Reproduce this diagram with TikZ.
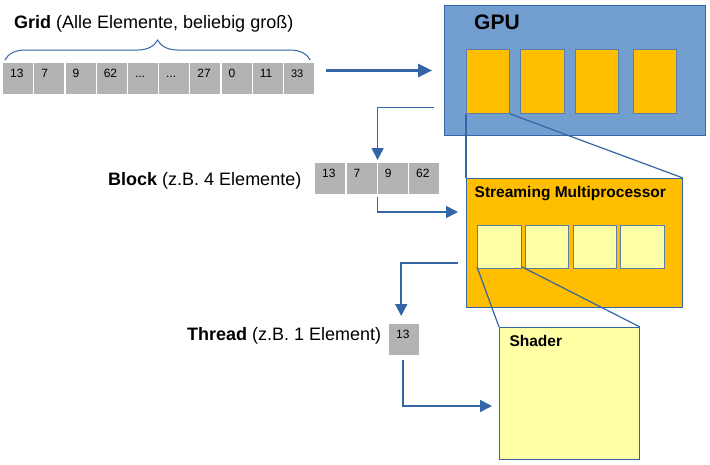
\documentclass[tikz,border=0pt]{standalone}
\usepackage{fontspec}
\setmainfont{Liberation Sans}
\usetikzlibrary{arrows.meta,decorations.pathreplacing}
\definecolor{lineblue}{HTML}{3465A4}
\definecolor{gpublue}{HTML}{729FCF}
\definecolor{smorange}{HTML}{FFBF00}
\definecolor{shyellow}{HTML}{FFFFA6}
\definecolor{cellgray}{HTML}{B3B3B3}
\definecolor{sqborder}{HTML}{5B7DA8}
\begin{document}
\begin{tikzpicture}[x=1pt,y=-1pt,
  cell/.style={fill=cellgray, anchor=north west, minimum width=30pt, minimum height=30.5pt,
    inner xsep=0pt, inner ysep=0pt, text width=16pt, align=left, text height=9pt, text depth=11.5pt,
    font=\fontsize{12}{14}\selectfont},
  box/.style={anchor=north west, inner sep=0pt, line width=1pt, draw=lineblue},
  sqbox/.style={anchor=north west, inner sep=0pt, line width=0.8pt, draw=sqborder},
  lbl/.style={anchor=base west, inner sep=0pt, font=\fontsize{18}{21}\selectfont},
  title/.style={anchor=base west, inner sep=0pt, font=\bfseries\fontsize{15.5}{18}\selectfont},
  zoomline/.style={draw=lineblue, line width=1.2pt},
  thinarrow/.style={draw=lineblue, line width=1.7pt, -{Triangle[length=12pt,width=12pt]}},
  bigarrow/.style={draw=lineblue, line width=3pt, -{Triangle[length=14pt,width=13pt]}}
]
\useasboundingbox (0,0) rectangle (710,464);

% Grid row
\node[lbl] (gridlbl) at (14,28.3) {\textbf{Grid} (Alle Elemente, beliebig groß)};
\node[cell] (g1) at (3,63) {13};
\node[cell] (g2) at (34.2,63) {7};
\node[cell] (g3) at (65.4,63) {9};
\node[cell] (g4) at (96.6,63) {62};
\node[cell] (g5) at (127.8,63) {...};
\node[cell] (g6) at (159,63) {...};
\node[cell] (g7) at (190.2,63) {27};
\node[cell] (g8) at (221.4,63) {0};
\node[cell] (g9) at (252.6,63) {11};
\node[cell, font=\fontsize{11}{13}\selectfont] (g10) at (283.8,63) {33};
\draw[lineblue, line width=1pt, decorate, decoration={brace, amplitude=20pt}]
  ([xshift=2pt,yshift=3pt]g1.north west) -- ([xshift=-4pt,yshift=3pt]g10.north east);

% GPU
\node[box, fill=gpublue, minimum width=261pt, minimum height=130pt] (gpu) at (444,5) {};
\node[anchor=base west, inner sep=0pt, font=\bfseries\fontsize{21}{25}\selectfont] (gpulbl) at (474,29.3) {GPU};
\node[sqbox, fill=smorange, minimum width=43pt, minimum height=64pt] (o1) at (466,49) {};
\node[sqbox, fill=smorange, minimum width=44pt, minimum height=64pt] (o2) at (520,49) {};
\node[sqbox, fill=smorange, minimum width=43pt, minimum height=64pt] (o3) at (575,49) {};
\node[sqbox, fill=smorange, minimum width=43pt, minimum height=64pt] (o4) at (633,49) {};

% Streaming Multiprocessor
\node[box, fill=smorange, minimum width=216pt, minimum height=129pt] (sm) at (466,178) {};
\node[title] (smlbl) at (474.5,197.3) {Streaming Multiprocessor};
\node[sqbox, fill=shyellow, minimum width=44pt, minimum height=43pt] (y1) at (477,225) {};
\node[sqbox, fill=shyellow, minimum width=43pt, minimum height=43pt] (y2) at (525,225) {};
\node[sqbox, fill=shyellow, minimum width=43pt, minimum height=43pt] (y3) at (573,225) {};
\node[sqbox, fill=shyellow, minimum width=44pt, minimum height=43pt] (y4) at (620,225) {};

% Shader
\node[box, fill=shyellow, minimum width=140pt, minimum height=132pt] (sh) at (499,327) {};
\node[title] (shlbl) at (509.3,346.7) {Shader};

% zoom lines
\draw[zoomline] (o1.south west) -- (sm.north west);
\draw[zoomline] (o1.south east) -- (sm.north east);
\draw[zoomline] ([yshift=2pt]y1.south west) -- (sh.north west);
\draw[zoomline] ([yshift=2pt]y1.south east) -- (sh.north east);

% Block row
\node[lbl] (blocklbl) at (108,185) {\textbf{Block} (z.B. 4 Elemente)};
\node[cell] (b1) at (315,163) {13};
\node[cell] (b2) at (346.3,163) {7};
\node[cell] (b3) at (377.6,163) {9};
\node[cell] (b4) at (408.9,163) {62};

% Thread row
\node[lbl] (threadlbl) at (187,340.7) {\textbf{Thread} (z.B. 1 Element)};
\node[cell] (t1) at (389,324) {13};

% arrows
\coordinate (gs) at ([xshift=12pt]g10.east);
\draw[bigarrow] (gs |- gpu.west) -- ([xshift=-12pt]gpu.west);

\coordinate (a1s) at ([xshift=-10pt,yshift=-37pt]gpu.west);
\draw[thinarrow] (a1s) -| ([yshift=3pt]b3.north west);

\coordinate (a2s) at ([yshift=-3pt]b3.south west);
\coordinate (a2e) at ([xshift=-8pt,yshift=-34pt]sm.north west);
\draw[thinarrow] (a2s) |- (a2e);

\coordinate (a3s) at ([xshift=-8pt,yshift=-85pt]sm.north west);
\draw[thinarrow] (a3s) -| ([xshift=-3pt,yshift=8pt]t1.north);

\coordinate (a4s) at ([xshift=-1pt,yshift=-5pt]t1.south);
\coordinate (a4e) at ([xshift=-7pt,yshift=-79pt]sh.north west);
\draw[thinarrow] (a4s) |- (a4e);
\end{tikzpicture}
\end{document}
